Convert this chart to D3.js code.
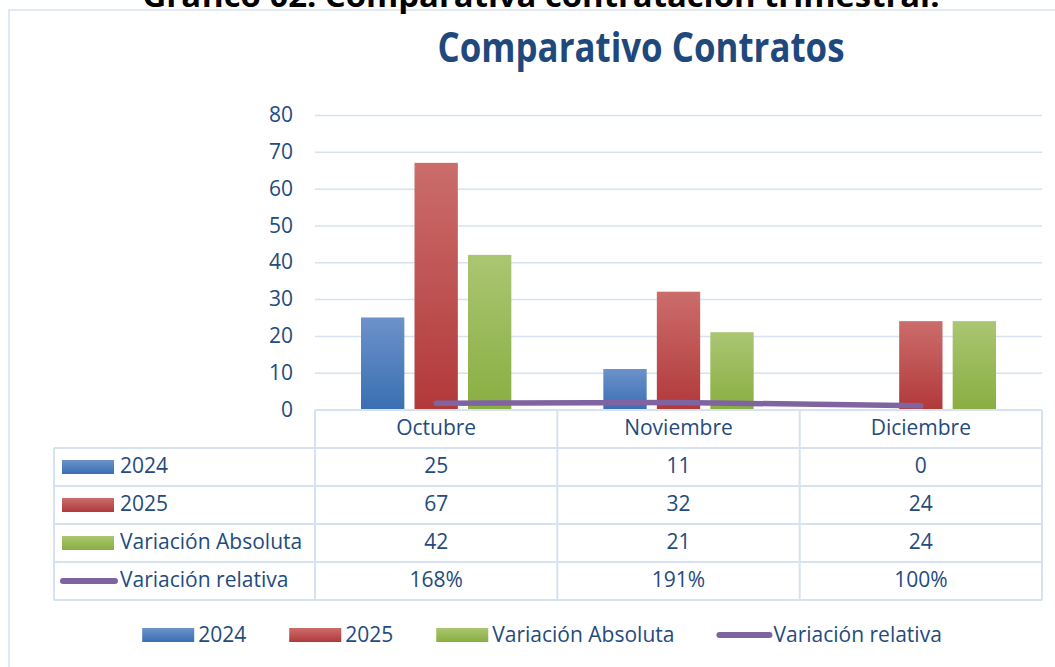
<!DOCTYPE html>
<html>
<head>
<meta charset="utf-8">
<script src="https://cdn.jsdelivr.net/npm/d3@7"></script>
<style>
  body { margin: 0; background: #fff; }
  text { font-family: "Open Sans", sans-serif; fill: #244b7d; }
</style>
</head>
<body>
<div id="chart"></div>
<script>
// data
var categories = ["Octubre", "Noviembre", "Diciembre"];
var seriesNames = ["2024", "2025", "Variación Absoluta"];
var v2024 = [25, 11, 0];
var v2025 = [67, 32, 24];
var vAbsoluta = [42, 21, 24];
var lineName = "Variación relativa";
var vRelativa = [1.68, 1.91, 1.00]; // 168%, 191%, 100%
var yTicks = [0, 10, 20, 30, 40, 50, 60, 70, 80];

var barValues = [v2024, v2025, vAbsoluta];
var colors = [["#6c92ca", "#3a6fb3"], ["#cb6d6b", "#b2393a"], ["#aac672", "#8aae42"]];
var lineColor = "#8064a2";
var gridColor = "#d6e2f1";
var pct = d3.format(".0%");

var W = 1055, H = 667;
var plot = {left: 315, right: 1042, top: 115, bottom: 409.5};

var svg = d3.select("#chart").append("svg")
    .attr("width", W)
    .attr("height", H);

var defs = svg.append("defs");
colors.forEach(function(c, i) {
  var g = defs.append("linearGradient")
      .attr("id", "grad" + i)
      .attr("x1", 0).attr("y1", 0).attr("x2", 0).attr("y2", 1);
  g.append("stop").attr("offset", "0%").attr("stop-color", c[0]);
  g.append("stop").attr("offset", "100%").attr("stop-color", c[1]);
});

// frame (cut by the page edge)
svg.append("rect")
    .attr("x", 9).attr("y", 10)
    .attr("width", 1100).attr("height", 700)
    .attr("fill", "none")
    .attr("stroke", gridColor)
    .attr("stroke-width", 1.5);

// document caption, cut off at top like in the source
svg.append("text")
    .attr("x", 541).attr("y", 7)
    .attr("text-anchor", "middle")
    .attr("textLength", 797)
    .attr("lengthAdjust", "spacingAndGlyphs")
    .style("font-size", "31px")
    .style("font-weight", "bold")
    .style("fill", "#000")
    .text("Gráfico 02. Comparativa contratación trimestral.");

svg.append("text")
    .attr("x", 641).attr("y", 62)
    .attr("text-anchor", "middle")
    .attr("textLength", 407)
    .attr("lengthAdjust", "spacingAndGlyphs")
    .style("font-size", "42px")
    .style("font-weight", "bold")
    .style("fill", "#1f497d")
    .text("Comparativo Contratos");

var x = d3.scaleBand()
    .domain(categories)
    .range([plot.left, plot.right]);

var x1 = d3.scaleBand()
    .domain(seriesNames)
    .range([0, x.bandwidth()])
    .paddingInner(0.19)
    .paddingOuter(0.86);

var y = d3.scaleLinear()
    .domain([0, 80])
    .range([plot.bottom, plot.top]);

// axis + gridlines
var yAxis = svg.append("g")
    .attr("transform", "translate(" + plot.left + ",0)")
    .call(d3.axisLeft(y).tickValues(yTicks).tickSizeInner(-(plot.right - plot.left)).tickSizeOuter(0).tickPadding(22));
yAxis.select(".domain").remove();
yAxis.selectAll("line").attr("stroke", gridColor).attr("stroke-width", 1.5);
yAxis.selectAll("text")
    .style("font-size", "21px")
    .style("font-family", "'Open Sans', sans-serif")
    .attr("fill", "#244b7d");

// bars
seriesNames.forEach(function(s, si) {
  svg.append("g").selectAll("rect")
      .data(barValues[si])
    .enter().append("rect")
      .attr("x", function(d, i) { return x(categories[i]) + x1(s); })
      .attr("y", function(d) { return y(d); })
      .attr("width", x1.bandwidth())
      .attr("height", function(d) { return y(0) - y(d); })
      .attr("fill", "url(#grad" + si + ")");
});

// relative variation line (same axis)
var line = d3.line()
    .x(function(d, i) { return x(categories[i]) + x.bandwidth() / 2; })
    .y(function(d) { return y(d); });

svg.append("path")
    .datum(vRelativa)
    .attr("d", line)
    .attr("fill", "none")
    .attr("stroke", lineColor)
    .attr("stroke-width", 5.5)
    .attr("stroke-linecap", "round");

// data table
var rowNames = ["head"].concat(seriesNames).concat([lineName]);
var rows = d3.scaleBand()
    .domain(rowNames)
    .range([410, 600]);
var tableLeft = 54;

var table = svg.append("g").attr("class", "table");
var border = function(x1p, y1p, x2p, y2p) {
  table.append("line")
      .attr("x1", x1p).attr("y1", y1p).attr("x2", x2p).attr("y2", y2p)
      .attr("stroke", gridColor).attr("stroke-width", 2);
};
// horizontal lines
border(plot.left, rows("head"), plot.right, rows("head"));
rowNames.slice(1).forEach(function(r) {
  border(tableLeft, rows(r), plot.right, rows(r));
});
border(tableLeft, 600, plot.right, 600);
// vertical lines
border(tableLeft, rows(seriesNames[0]), tableLeft, 600);
categories.forEach(function(c) { border(x(c), rows("head"), x(c), 600); });
border(plot.right, rows("head"), plot.right, 600);

var cellText = function(xp, row, str, anchor) {
  table.append("text")
      .attr("x", xp)
      .attr("y", rows(row) + rows.bandwidth() / 2 + 6)
      .attr("text-anchor", anchor || "middle")
      .style("font-size", "21px")
      .text(str);
};

categories.forEach(function(c, i) {
  var cx = x(c) + x.bandwidth() / 2;
  cellText(cx, "head", c);
  seriesNames.forEach(function(s, si) { cellText(cx, s, barValues[si][i]); });
  cellText(cx, lineName, pct(vRelativa[i]));
});

// legend keys inside the table
seriesNames.forEach(function(s, si) {
  table.append("rect")
      .attr("x", 62)
      .attr("y", rows(s) + rows.bandwidth() / 2 - 7)
      .attr("width", 52).attr("height", 14)
      .attr("fill", "url(#grad" + si + ")");
  cellText(120, s, s, "start");
});
table.append("line")
    .attr("x1", 63).attr("x2", 115)
    .attr("y1", rows(lineName) + rows.bandwidth() / 2)
    .attr("y2", rows(lineName) + rows.bandwidth() / 2)
    .attr("stroke", lineColor).attr("stroke-width", 6).attr("stroke-linecap", "round");
cellText(120, lineName, lineName, "start");

// bottom legend
var legendNames = seriesNames.concat([lineName]);
var legend = svg.append("g");
var lx = 0;
legendNames.forEach(function(n, i) {
  var item = legend.append("g").attr("transform", "translate(" + lx + ",0)");
  if (i < seriesNames.length) {
    item.append("rect")
        .attr("x", 0).attr("y", -7)
        .attr("width", 52).attr("height", 14)
        .attr("fill", "url(#grad" + i + ")");
  } else {
    item.append("line")
        .attr("x1", 2).attr("x2", 52).attr("y1", 0).attr("y2", 0)
        .attr("stroke", lineColor).attr("stroke-width", 6).attr("stroke-linecap", "round");
  }
  var t = item.append("text")
      .attr("x", 56).attr("y", 7)
      .style("font-size", "21px")
      .text(n);
  lx += 56 + t.node().getComputedTextLength() + 43;
});
var legendWidth = lx - 43;
legend.attr("transform", "translate(" + (542 - legendWidth / 2) + ",635)");
</script>
</body>
</html>
